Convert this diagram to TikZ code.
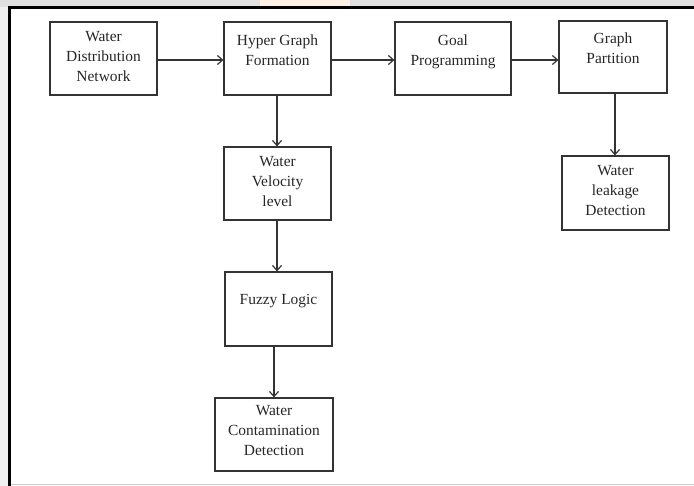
\documentclass[tikz,border=0pt]{standalone}
\usepackage{fontspec}
\setmainfont{Liberation Serif}
\usetikzlibrary{arrows.meta}
\begin{document}
\begin{tikzpicture}[x=1bp,y=-1bp,
  box/.style={draw=black!80,line width=1.3pt,inner sep=0pt},
  txt/.style={anchor=north,align=center,font=\fontsize{15.5}{20}\selectfont,text=black!85,inner sep=0pt},
  conn/.style={draw=black!80,line width=1.2pt,-{Straight Barb[length=5bp,width=9bp]}}]
\useasboundingbox (0,0) rectangle (694,486);
% background and frame
\fill[black!12] (0,0) rectangle (694,7);
\fill[orange!10] (260,0) rectangle (350,6);
\fill[black!6] (0,7) rectangle (8,486);
\draw[black!20,line width=0.8pt] (10,484) -- (694,484);
\draw[black,line width=2.5pt] (9.5,486) -- (9.5,7.5) -- (694,7.5);
% boxes
\node[box,minimum width=107bp,minimum height=73bp] (wdn) at (103.5,58.5) {};
\node[box,minimum width=107bp,minimum height=73bp] (hgf) at (277.5,58.5) {};
\node[box,minimum width=116bp,minimum height=73bp] (gp) at (453,58.5) {};
\node[box,minimum width=108bp,minimum height=72bp] (gpart) at (613,57) {};
\node[box,minimum width=107bp,minimum height=73bp] (wv) at (277.5,183.5) {};
\node[box,minimum width=107bp,minimum height=74bp] (fl) at (278.5,309) {};
\node[box,minimum width=118bp,minimum height=73bp] (wcd) at (274,434.5) {};
\node[box,minimum width=107bp,minimum height=74bp] (wl) at (615.5,193) {};
% texts
\node[txt] (wdnT) at ([yshift=-10bp]wdn.north) {Water\\Distribution\\Network};
\node[txt] (hgfT) at ([yshift=-13bp]hgf.north) {Hyper Graph\\Formation};
\node[txt] (gpT) at ([yshift=-13bp]gp.north) {Goal\\Programming};
\node[txt] (gpartT) at ([yshift=-12bp]gpart.north) {Graph\\Partition};
\node[txt] (wvT) at ([yshift=-10bp]wv.north) {Water\\Velocity\\level};
\node[txt] (flT) at ([yshift=-23bp]fl.north) {Fuzzy Logic};
\node[txt] (wcdT) at ([yshift=-8bp]wcd.north) {Water\\Contamination\\Detection};
\node[txt] (wlT) at ([yshift=-10bp]wl.north) {Water\\leakage\\Detection};
% connectors
\draw[conn] (wdn.east |- 0,60) -- (hgf.west |- 0,60);
\draw[conn] (hgf.east |- 0,60) -- (gp.west |- 0,60);
\draw[conn] (gp.east |- 0,60) -- (gpart.west |- 0,60);
\draw[conn] (hgf.south -| 277,0) -- (wv.north -| 277,0);
\draw[conn] (wv.south -| 277,0) -- (fl.north -| 277,0);
\draw[conn] (fl.south -| 274,0) -- (wcd.north -| 274,0);
\draw[conn] (gpart.south -| 615,0) -- (wl.north -| 615,0);
\end{tikzpicture}
\end{document}
